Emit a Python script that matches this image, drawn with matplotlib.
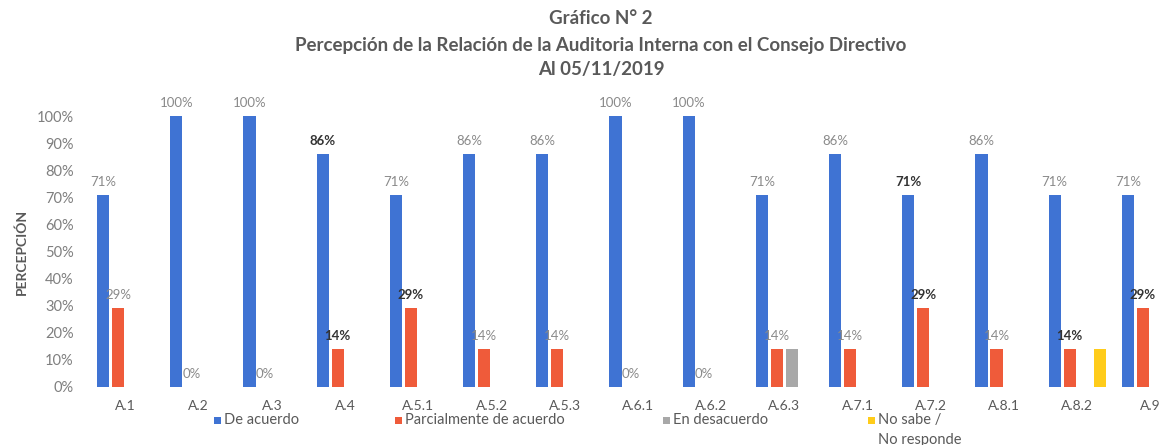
import matplotlib
matplotlib.use("Agg")
import matplotlib.pyplot as plt
import numpy as np
from matplotlib.patches import Rectangle

plt.rcParams['font.family'] = ['Lato', 'DejaVu Sans']

categories = ["A.1", "A.2", "A.3", "A.4", "A.5.1", "A.5.2", "A.5.3", "A.6.1",
              "A.6.2", "A.6.3", "A.7.1", "A.7.2", "A.8.1", "A.8.2", "A.9"]
de_acuerdo = [71, 100, 100, 86, 71, 86, 86, 100, 100, 71, 86, 71, 86, 71, 71]
parcialmente = [29, 0, 0, 14, 29, 14, 14, 0, 0, 14, 14, 29, 14, 14, 29]
en_desacuerdo = [0, 0, 0, 0, 0, 0, 0, 0, 0, 14, 0, 0, 0, 0, 0]
no_sabe = [0, 0, 0, 0, 0, 0, 0, 0, 0, 0, 0, 0, 0, 14, 0]
series_names = ["De acuerdo", "Parcialmente de acuerdo", "En desacuerdo", "No sabe /\nNo responde"]
yticks = [0, 10, 20, 30, 40, 50, 60, 70, 80, 90, 100]

colors = ["#3F73D3", "#EF5B3A", "#A8A8A8", "#FFCC1A"]
# which labels look darker/bold in the reference (style only)
dark_blue = {3, 11}
dark_red = {3, 4, 11, 13, 14}

W, H = 1165, 445
fig = plt.figure(figsize=(W / 100, H / 100), dpi=100)
ax = fig.add_axes([89 / W, 1 - 387 / H, 1098 / W, 271 / H])

x = np.arange(len(categories))
slot = 0.205
bw = 0.165
all_series = [de_acuerdo, parcialmente, en_desacuerdo, no_sabe]
for k, vals in enumerate(all_series):
    ax.bar(x + (k - 1.5) * slot, vals, width=bw, color=colors[k], label=series_names[k])

gray = "#8A8A8A"
for i in range(len(categories)):
    for k, vals, dset in ((0, de_acuerdo, dark_blue), (1, parcialmente, dark_red)):
        v = vals[i]
        d = i in dset
        ax.annotate(f"{v}%", (x[i] + (k - 1.5) * slot, v), xytext=(0, 5),
                    textcoords="offset points", ha="center", va="bottom", fontsize=9.5,
                    color="#333333" if d else gray, fontweight="bold" if d else "normal",
                    annotation_clip=False)

ax.set_xlim(-0.5, len(categories) - 0.5)
ax.set_ylim(0, 100)
ax.set_yticks(yticks)
ax.set_yticklabels([f"{t}%" for t in yticks], fontsize=10.5, color="#7F7F7F")
ax.set_xticks(x)
ax.set_xticklabels(categories, fontsize=10, color="#595959")
ax.tick_params(axis="y", length=0, pad=11)
ax.tick_params(axis="x", length=0, pad=9)
for s in ax.spines.values():
    s.set_visible(False)
ax.set_ylabel("PERCEPCIÓN", fontsize=10, fontweight="bold", color="#595959", labelpad=6)

title_lines = ["Gráfico N° 2",
               "Percepción de la Relación de la Auditoria Interna con el Consejo Directivo",
               "Al 05/11/2019"]
for line, yp in zip(title_lines, (18, 45, 69)):
    fig.text(601 / W, 1 - yp / H, line, ha="center", va="center",
             fontsize=13.5, fontweight="bold", color="#595959")

# legend, drawn manually to mimic the Excel layout
leg_x = [214, 395, 663, 868]
leg_y = 420
for xp, c, name in zip(leg_x, colors, series_names):
    fig.add_artist(Rectangle(((xp) / W, 1 - (leg_y + 3.5) / H), 7 / W, 7 / H,
                             transform=fig.transFigure, facecolor=c, edgecolor="none"))
    fig.text((xp + 10) / W, 1 - (leg_y - 7) / H, name, ha="left", va="top",
             fontsize=10.5, color="#595959", linespacing=1.55)

fig.savefig("out.png", dpi=100)
